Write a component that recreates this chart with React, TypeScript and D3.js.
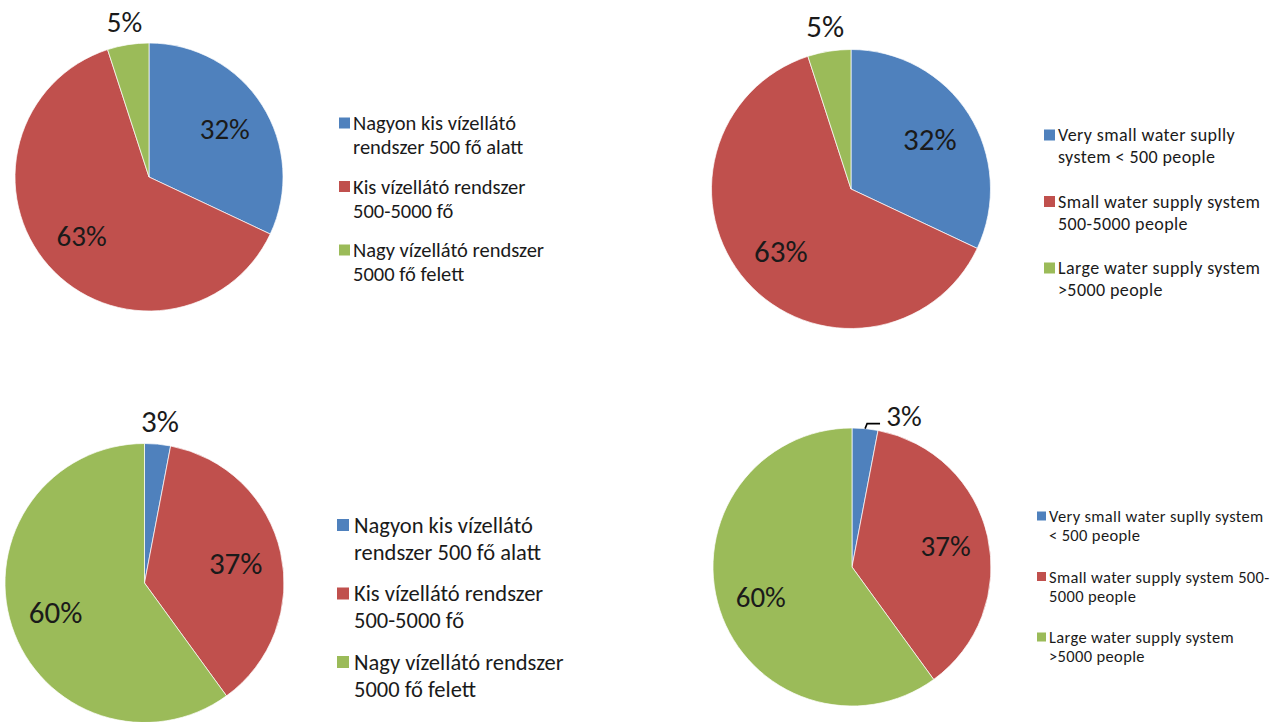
import React from "react";
import * as d3 from "d3";

// ---------- data ----------
const seriesColors = ["#4F81BD", "#C0504D", "#9BBB59"];
const sharesTop = [32, 63, 5];
const sharesBottom = [3, 37, 60];
const legendHuLines = [
  ["Nagyon kis vízellátó", "rendszer 500 fő alatt"],
  ["Kis vízellátó rendszer", "500-5000 fő"],
  ["Nagy vízellátó rendszer", "5000 fő felett"],
];
const legendEnTopLines = [
  ["Very small water suplly", "system < 500 people"],
  ["Small water supply system", "500-5000 people"],
  ["Large water supply system", ">5000 people"],
];
const legendEnBottomLines = [
  ["Very small water suplly system", "< 500 people"],
  ["Small water supply system 500-", "5000 people"],
  ["Large water supply system", ">5000 people"],
];

const FONT = "Carlito, Calibri, Lato, 'Open Sans', sans-serif";

type Panel = {
  values: number[];
  legend: string[][];
  cx: number;
  cy: number;
  r: number;
  labelSize: number;
  inFactor: number;
  outFactor: number;
  leaderAngleDeg?: number;
  lg: { sx: number; sw: number; tx: number; y0: number; line: number; entry: number; size: number; spacing?: number };
};

const panels: Panel[] = [
  {
    values: sharesTop, legend: legendHuLines, cx: 149, cy: 177, r: 134, labelSize: 29, inFactor: 0.67, outFactor: 1.17,
    lg: { sx: 339, sw: 11, tx: 353, y0: 123, line: 24, entry: 63.5, size: 20.5 },
  },
  {
    values: sharesTop, legend: legendEnTopLines, cx: 851, cy: 189, r: 139.5, labelSize: 31, inFactor: 0.67, outFactor: 1.18,
    lg: { sx: 1044, sw: 11, tx: 1058, y0: 135, line: 22, entry: 66.5, size: 18, spacing: 0.4 },
  },
  {
    values: sharesBottom, legend: legendHuLines, cx: 144.5, cy: 583, r: 139.5, labelSize: 31, inFactor: 0.67, outFactor: 1.17,
    lg: { sx: 337, sw: 12, tx: 354, y0: 525, line: 27, entry: 68.5, size: 22.5 },
  },
  {
    values: sharesBottom, legend: legendEnBottomLines, cx: 852, cy: 567, r: 139, labelSize: 29, inFactor: 0.69, outFactor: 1.15,
    leaderAngleDeg: 19,
    lg: { sx: 1037, sw: 9, tx: 1049, y0: 516, line: 19, entry: 60.5, size: 16.5, spacing: 0.35 },
  },
];

function PiePanel({ p }: { p: Panel }) {
  const pie = d3.pie<number>().sort(null).value((d) => d);
  const arcs = pie(p.values);
  const arc = d3.arc<d3.PieArcDatum<number>>().innerRadius(0).outerRadius(p.r);
  const polar = (a: number, rad: number) => [Math.sin(a) * rad, -Math.cos(a) * rad];
  return (
    <g>
      <g transform={`translate(${p.cx},${p.cy})`}>
        {arcs.map((a, i) => (
          <path key={i} d={arc(a) || ""} fill={seriesColors[i]} stroke="#ffffff" strokeWidth={0.7} />
        ))}
        {arcs.map((a, i) => {
          const mid = (a.startAngle + a.endAngle) / 2;
          const small = a.value < 10;
          let ang = mid;
          if (small && p.leaderAngleDeg !== undefined) ang = (p.leaderAngleDeg * Math.PI) / 180;
          const [x, y] = polar(ang, p.r * (small ? p.outFactor : p.inFactor));
          const els: any[] = [];
          if (small && p.leaderAngleDeg !== undefined) {
            const [ex, ey] = polar(mid, p.r);
            const yy = ey - 5;
            els.push(
              <path key={"l" + i} d={`M${ex},${ey}L${ex + 2},${yy}L${x - 24},${yy}`} fill="none" stroke="#000" strokeWidth={1.6} />
            );
          }
          els.push(
            <text key={"t" + i} x={x} y={y} textAnchor="middle" dominantBaseline="central" fontSize={p.labelSize} fill="#1a1a1a" fontFamily={FONT}>
              {`${a.value}%`}
            </text>
          );
          return <g key={i}>{els}</g>;
        })}
      </g>
      <g>
        {p.legend.map((lines, i) => {
          const y = p.lg.y0 + i * p.lg.entry;
          return (
            <g key={i}>
              <rect x={p.lg.sx} y={y - p.lg.sw / 2} width={p.lg.sw} height={p.lg.sw} fill={seriesColors[i]} />
              {lines.map((ln, j) => (
                <text key={j} x={p.lg.tx} y={y + j * p.lg.line} dominantBaseline="central" fontSize={p.lg.size} fill="#1a1a1a" fontFamily={FONT} letterSpacing={p.lg.spacing || 0}>
                  {ln}
                </text>
              ))}
            </g>
          );
        })}
      </g>
    </g>
  );
}

export default function App() {
  return (
    <svg width={1283} height={722} style={{ position: "absolute", left: 0, top: 0, background: "#fff" }}>
      <rect width={1283} height={722} fill="#fff" />
      {panels.map((p, i) => (
        <PiePanel key={i} p={p} />
      ))}
    </svg>
  );
}
